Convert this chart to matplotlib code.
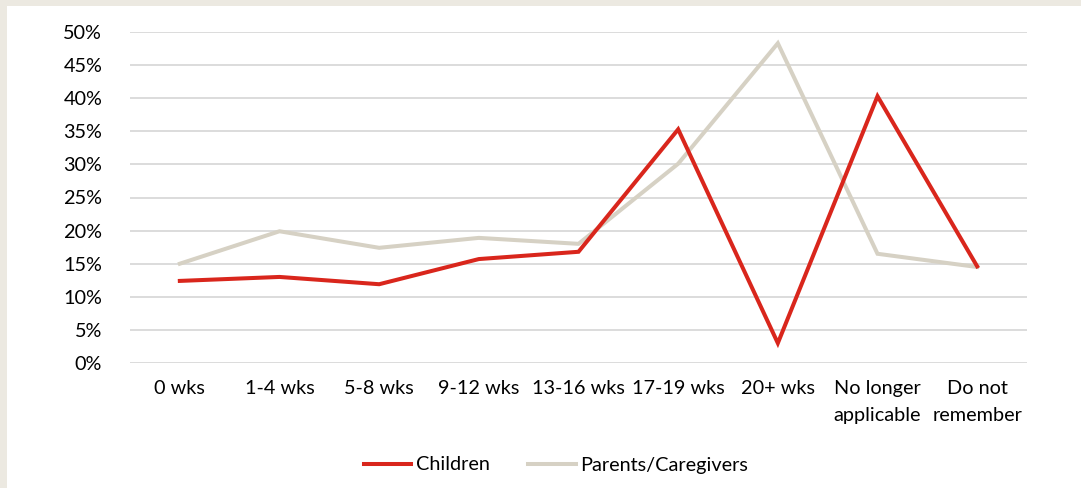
import matplotlib.pyplot as plt
from matplotlib.patches import Rectangle
from matplotlib.ticker import PercentFormatter

categories = ["0 wks", "1-4 wks", "5-8 wks", "9-12 wks", "13-16 wks", "17-19 wks",
              "20+ wks", "No longer\napplicable", "Do not\nremember"]
children = [12.4, 13.0, 11.9, 15.7, 16.8, 35.3, 3.0, 40.3, 14.6]
parents = [15.0, 19.9, 17.4, 18.9, 18.0, 30.1, 48.3, 16.5, 14.5]
y_ticks = [0, 5, 10, 15, 20, 25, 30, 35, 40, 45, 50]

plt.rcParams["font.family"] = ["Lato", "DejaVu Sans"]

fig = plt.figure(figsize=(10.81, 4.88), dpi=100, facecolor="#ECE9E1")
# white panel inside the beige page border
fig.patches.append(Rectangle((7 / 1081, 0), 1, 1 - 6 / 488, transform=fig.transFigure,
                             facecolor="white", edgecolor="none", zorder=-10))

ax = fig.add_axes([130 / 1081, 1 - 363 / 488, 897 / 1081, 331 / 488])
ax.set_facecolor("none")
x = range(len(categories))
ax.plot(x, children, color="#D9261C", lw=2.9, label="Children", solid_joinstyle="miter", zorder=3)
ax.plot(x, parents, color="#D6D1C4", lw=2.9, label="Parents/Caregivers", solid_joinstyle="miter", zorder=2)

ax.set_xlim(-0.5, len(categories) - 0.5)
ax.set_ylim(0, 50)
ax.set_yticks(y_ticks)
ax.yaxis.set_major_formatter(PercentFormatter(decimals=0))
ax.set_xticks(list(x))
ax.set_xticklabels(categories, fontsize=14.3, linespacing=1.75, va="top")
ax.tick_params(axis="y", labelsize=14.3, length=0, pad=20)
ax.tick_params(axis="x", length=0, pad=12)
ax.grid(axis="y", color="#D9D9D9", lw=1.3)
ax.set_axisbelow(True)
for s in ax.spines.values():
    s.set_visible(False)

fig.legend(loc="center", bbox_to_anchor=(556 / 1081, 1 - 465 / 488), ncol=2, frameon=False,
           fontsize=14.3, handlelength=2.4, handletextpad=0.25, columnspacing=1.9)

fig.savefig("out.png", dpi=100, facecolor=fig.get_facecolor())
